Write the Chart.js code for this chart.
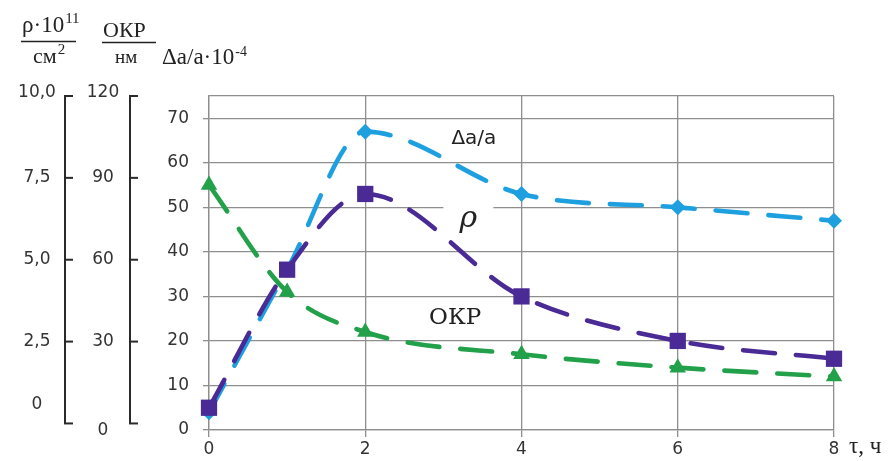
<!DOCTYPE html>
<html>
<head>
<meta charset="utf-8">
<script src="https://cdn.jsdelivr.net/npm/chart.js@4.4.1/dist/chart.umd.min.js"></script>
<style>
  html, body { margin: 0; padding: 0; background: #ffffff; overflow: hidden; }
  canvas { display: block; }
</style>
</head>
<body>
<canvas id="chart" width="892" height="461"></canvas>
<script>
// Annealing time, hours
const hours = [0, 1, 2, 4, 6, 8];
// Lattice parameter change Δa/a·10^-4
const latticeStrain = [4, 36, 67, 53, 50, 47];
// Dislocation density ρ (plotted on the common grid)
const dislocationDensity = [5, 36, 53, 30, 20, 16];
// Coherent scattering region size (ОКР)
const domainSize = [55, 31, 22, 17, 14, 12];

// Tick values
const mainTicks = [0, 10, 20, 30, 40, 50, 60, 70];
const timeTicks = [0, 2, 4, 6, 8];
const rhoTickValues = [0, 2.5, 5, 7.5, 10];
const rhoTickLabels = ['0', '2,5', '5,0', '7,5', '10,0'];
const okpTickValues = [0, 30, 60, 90, 120];
const okpTickLabels = ['0', '30', '60', '90', '120'];

const toPoints = (ys) => hours.map((h, i) => ({ x: h, y: ys[i] }));

const GRID = '#8e8e8e';
const INK = '#2a2a2a';
const BLUE = '#1e9fdf';
const PURPLE = '#4a2a94';
const GREEN = '#22a04a';

// text followed by a raised exponent
function withExponent(ctx, base, exp, x, y, baseFont, expFont, rise) {
  ctx.font = baseFont;
  ctx.fillText(base, x, y);
  const w = ctx.measureText(base).width;
  ctx.font = expFont;
  ctx.fillText(exp, x + w + 1, y - rise);
}

// Extra bracket axes on the left plus text annotations
const decorations = {
  id: 'decorations',
  beforeDatasetsDraw(chart) {
    const { ctx, scales: { x, y } } = chart;
    // white patch behind the ρ label
    const cx = x.getPixelForValue(3.32), cy = y.getPixelForValue(47.8);
    ctx.save();
    ctx.fillStyle = '#ffffff';
    ctx.fillRect(cx - 25, cy - 16, 50, 30);
    ctx.restore();
  },
  afterDraw(chart) {
    const { ctx, scales } = chart;
    const { x, y } = scales;
    ctx.save();

    // bracket axes
    const bracket = (scale, values, labels, lineX, labelX, shift) => {
      const top = scale.getPixelForValue(values[values.length - 1]);
      const bottom = scale.getPixelForValue(values[0]);
      ctx.strokeStyle = INK;
      ctx.lineWidth = 2;
      ctx.beginPath();
      ctx.moveTo(lineX, top);
      ctx.lineTo(lineX, bottom);
      ctx.stroke();
      ctx.font = '17px "DejaVu Sans"';
      ctx.fillStyle = '#333333';
      ctx.textAlign = 'center';
      ctx.textBaseline = 'middle';
      values.forEach((v, i) => {
        const py = scale.getPixelForValue(v);
        ctx.beginPath();
        ctx.moveTo(lineX - 1, py);
        ctx.lineTo(lineX + 8, py);
        ctx.stroke();
        ctx.fillText(labels[i], labelX, py + shift(i, values.length));
      });
    };
    bracket(scales.yRho, rhoTickValues, rhoTickLabels, 65, 37,
      (i, n) => (i === 0 ? -19 : (i === n - 1 ? -3 : 0)));
    bracket(scales.yOkp, okpTickValues, okpTickLabels, 130, 103,
      (i, n) => (i === 0 ? 7 : (i === n - 1 ? -3 : 0)));

    // header: units of the three quantities
    ctx.fillStyle = '#222222';
    ctx.strokeStyle = '#222222';
    ctx.textAlign = 'left';
    ctx.textBaseline = 'alphabetic';
    withExponent(ctx, 'ρ·10', '11', 22, 32, '23px "Liberation Serif"', '15px "Liberation Serif"', 9);
    ctx.lineWidth = 1.6;
    ctx.beginPath(); ctx.moveTo(21, 41.5); ctx.lineTo(76, 41.5); ctx.stroke();
    withExponent(ctx, 'см', '2', 33, 63, '22px "Liberation Serif"', '15px "Liberation Serif"', 9);

    ctx.font = '22px "Liberation Serif"';
    ctx.fillText('ОКР', 103, 37);
    ctx.beginPath(); ctx.moveTo(102, 42.5); ctx.lineTo(156, 42.5); ctx.stroke();
    ctx.font = '19px "Liberation Serif"';
    ctx.fillText('нм', 115, 63);

    withExponent(ctx, 'Δa/a·10', '-4', 162, 64, '23px "Liberation Serif"', '14px "Liberation Serif"', 8);

    // axis name for time
    ctx.font = '23px "Liberation Serif"';
    ctx.textBaseline = 'middle';
    ctx.fillText('τ, ч', x.getPixelForValue(8) + 15, 447);

    // curve labels
    ctx.textAlign = 'center';
    ctx.font = '20px "DejaVu Sans"';
    ctx.fillText('Δa/a', x.getPixelForValue(3.39), y.getPixelForValue(65.3));
    ctx.font = 'italic 30px "DejaVu Serif"';
    ctx.fillText('ρ', x.getPixelForValue(3.32), y.getPixelForValue(47.8) + 2);
    ctx.font = '23px "DejaVu Serif"';
    ctx.fillText('ОКР', x.getPixelForValue(3.15), y.getPixelForValue(25.2));
    ctx.restore();
  }
};

const lineStyle = (color, style, radius, order) => ({
  borderColor: color,
  backgroundColor: color,
  borderWidth: 4.6,
  borderDash: [32, 21],
  borderCapStyle: 'round',
  cubicInterpolationMode: 'monotone',
  pointStyle: style,
  pointRadius: radius,
  pointHoverRadius: radius,
  pointBorderWidth: 0,
  clip: false,
  order: order,
  yAxisID: 'y'
});

new Chart(document.getElementById('chart'), {
  type: 'line',
  data: {
    datasets: [
      Object.assign({ label: 'Δa/a', data: toPoints(latticeStrain) }, lineStyle(BLUE, 'rectRot', 8, 3)),
      Object.assign({ label: 'ρ', data: toPoints(dislocationDensity) }, lineStyle(PURPLE, 'rect', 11.5, 2)),
      Object.assign({ label: 'ОКР', data: toPoints(domainSize) }, lineStyle(GREEN, 'triangle', 9.5, 1))
    ]
  },
  options: {
    responsive: false,
    animation: false,
    events: [],
    layout: { padding: { left: 149, top: 96, right: 58, bottom: 0 } },
    plugins: { legend: { display: false }, tooltip: { enabled: false } },
    scales: {
      x: {
        type: 'linear',
        min: 0,
        max: 8,
        afterBuildTicks: (s) => { s.ticks = timeTicks.map((v) => ({ value: v })); },
        afterFit: (s) => { s.height = 31; },
        ticks: { padding: 2, maxRotation: 0, color: '#333333', font: { family: 'DejaVu Sans', size: 17 } },
        grid: { color: GRID, lineWidth: 1.3, tickLength: 7, tickColor: GRID },
        border: { display: true, color: GRID, width: 1.3 }
      },
      y: {
        type: 'linear',
        position: 'left',
        min: 0,
        max: 75,
        afterBuildTicks: (s) => { s.ticks = mainTicks.concat([75]).map((v) => ({ value: v })); },
        afterFit: (s) => { s.width = 60; },
        ticks: {
          padding: 14,
          color: '#333333',
          font: { family: 'DejaVu Sans', size: 17 },
          callback: (v) => (mainTicks.includes(v) ? String(v) : '')
        },
        grid: {
          color: GRID,
          lineWidth: 1.3,
          tickLength: 6,
          tickColor: (c) => (c.tick && c.tick.value === 75 ? 'rgba(0,0,0,0)' : GRID)
        },
        border: { display: true, color: GRID, width: 1.3 }
      },
      yRho: { type: 'linear', position: 'left', display: false, min: -0.2, max: 10 },
      yOkp: { type: 'linear', position: 'left', display: false, min: -2.4, max: 120 }
    }
  },
  plugins: [decorations]
});
</script>
</body>
</html>
